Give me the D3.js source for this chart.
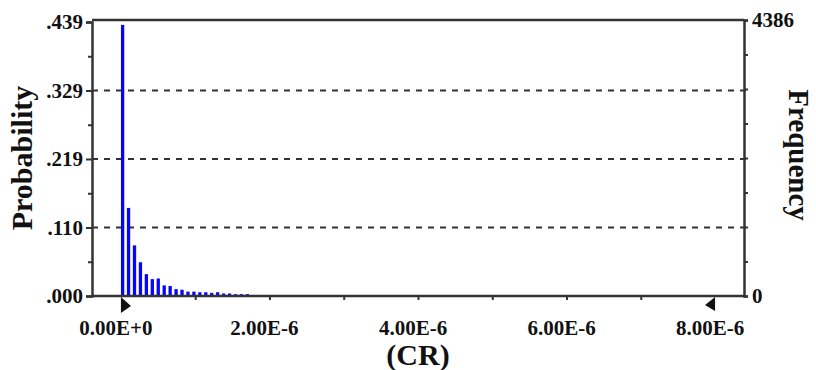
<!DOCTYPE html>
<html>
<head>
<meta charset="utf-8">
<script src="https://cdn.jsdelivr.net/npm/d3@7"></script>
<style>
  body { margin: 0; background: #fff; }
  svg text { font-family: "Liberation Serif", "Times New Roman", serif; font-weight: bold; fill: #111; }
</style>
</head>
<body>
<svg id="chart" width="816" height="370"></svg>
<script>
// bins of CR (left edge of each bin)
const binStarts = [0, 0.08e-6, 0.16e-6, 0.24e-6, 0.32e-6, 0.40e-6, 0.48e-6, 0.56e-6, 0.64e-6, 0.72e-6, 0.80e-6,
  0.88e-6, 0.96e-6, 1.04e-6, 1.12e-6, 1.20e-6, 1.28e-6, 1.36e-6, 1.44e-6, 1.52e-6, 1.60e-6, 1.68e-6];
const probs = [0.434, 0.141, 0.081, 0.054, 0.035, 0.027, 0.028, 0.017, 0.016, 0.011, 0.010,
  0.007, 0.007, 0.006, 0.006, 0.005, 0.006, 0.004, 0.004, 0.003, 0.003, 0.003];

const xTickVals = [0, 1e-6, 2e-6, 3e-6, 4e-6, 5e-6, 6e-6, 7e-6, 8e-6];
const xTickLabels = ["0.00E+0", "", "2.00E-6", "", "4.00E-6", "", "6.00E-6", "", "8.00E-6"];
const probTicks = [0, 0.10965, 0.2193, 0.32895, 0.4386];
const probLabels = [".000", ".110", ".219", ".329", ".439"];
const freqMax = 4386;
const markers = [0, 8e-6];   // certainty grabbers

const svg = d3.select("#chart");
const mLeft = 92, mRight = 744, mTop = 20, mBottom = 296;

const x = d3.scaleLinear().domain([-0.39e-6, 8.39e-6]).range([mLeft, mRight]);
const y = d3.scaleLinear().domain([0, 0.4386]).range([mBottom, 22]);
const yf = d3.scaleLinear().domain([0, freqMax]).range([mBottom, mTop]);

const axisColor = "#333";

// dashed gridlines
svg.append("g").selectAll("line")
  .data(probTicks.slice(1, 4))
  .join("line")
  .attr("x1", mLeft).attr("x2", mRight + 5)
  .attr("y1", d => y(d)).attr("y2", d => y(d))
  .attr("stroke", axisColor).attr("stroke-width", 2.2)
  .attr("stroke-dasharray", "6,6");

// bars
svg.append("g").selectAll("rect")
  .data(binStarts)
  .join("rect")
  .attr("x", d => x(d))
  .attr("width", 3.3)
  .attr("y", (d, i) => y(probs[i]))
  .attr("height", (d, i) => mBottom - y(probs[i]))
  .attr("fill", "#0505ff");

// left axis
svg.append("g").attr("transform", `translate(${mLeft},0)`)
  .call(d3.axisLeft(y).tickValues(probTicks).tickFormat((d, i) => probLabels[i]).tickSize(6).tickPadding(3));
const yMinor = probTicks.slice(0, 4).map((d, i) => (d + probTicks[i + 1]) / 2);
svg.append("g").attr("transform", `translate(${mLeft},0)`)
  .call(d3.axisLeft(y).tickValues(yMinor).tickFormat("").tickSize(4))
  .select(".domain").remove();

// right axis
const fTicks = d3.range(0, 9).map(k => freqMax * k / 8);
svg.append("g").attr("transform", `translate(${mRight},0)`)
  .call(d3.axisRight(yf).tickValues(fTicks)
    .tickFormat(d => (d === 0 || d === freqMax) ? d3.format("d")(d) : "").tickSize(4).tickPadding(4));

// bottom axis
svg.append("g").attr("transform", `translate(0,${mBottom})`)
  .call(d3.axisBottom(x).tickValues(xTickVals.filter(d => d > 0 && d < 8e-6)).tickFormat("").tickSize(4))
  .select(".domain").attr("d", `M${mLeft},0H${mRight}`);

// top frame line
svg.append("line").attr("x1", mLeft).attr("x2", mRight).attr("y1", mTop).attr("y2", mTop)
  .attr("stroke", axisColor).attr("stroke-width", 2.5);

svg.selectAll(".domain").attr("stroke", axisColor).attr("stroke-width", 2.5);
svg.selectAll(".tick line").attr("stroke", axisColor).attr("stroke-width", 2);
svg.selectAll(".tick text").style("font-size", "21px").attr("fill", "#111");

// x tick labels
svg.append("g").selectAll("text")
  .data(xTickVals.filter((d, i) => xTickLabels[i] !== ""))
  .join("text")
  .attr("x", d => x(d) - 5)
  .attr("y", 335)
  .attr("text-anchor", "middle")
  .style("font-size", "21px")
  .text(d => xTickLabels[xTickVals.indexOf(d)]);

// certainty grabber triangles
svg.append("path")
  .attr("d", `M${x(markers[0])},${mBottom + 1}L${x(markers[0]) + 10},${mBottom + 10}L${x(markers[0])},${mBottom + 17}Z`)
  .attr("fill", "#111");
svg.append("path")
  .attr("d", `M${x(markers[1])},${mBottom + 1}L${x(markers[1]) - 10},${mBottom + 9}L${x(markers[1])},${mBottom + 15}Z`)
  .attr("fill", "#111");

// axis titles
svg.append("text")
  .attr("transform", `translate(32,158) rotate(-90)`)
  .attr("text-anchor", "middle")
  .style("font-size", "30px")
  .text("Probability");
svg.append("text")
  .attr("transform", `translate(789,155) rotate(90)`)
  .attr("text-anchor", "middle")
  .style("font-size", "29px")
  .text("Frequency");
svg.append("text")
  .attr("x", 418).attr("y", 365)
  .attr("text-anchor", "middle")
  .style("font-size", "30px")
  .text("(CR)");
</script>
</body>
</html>
